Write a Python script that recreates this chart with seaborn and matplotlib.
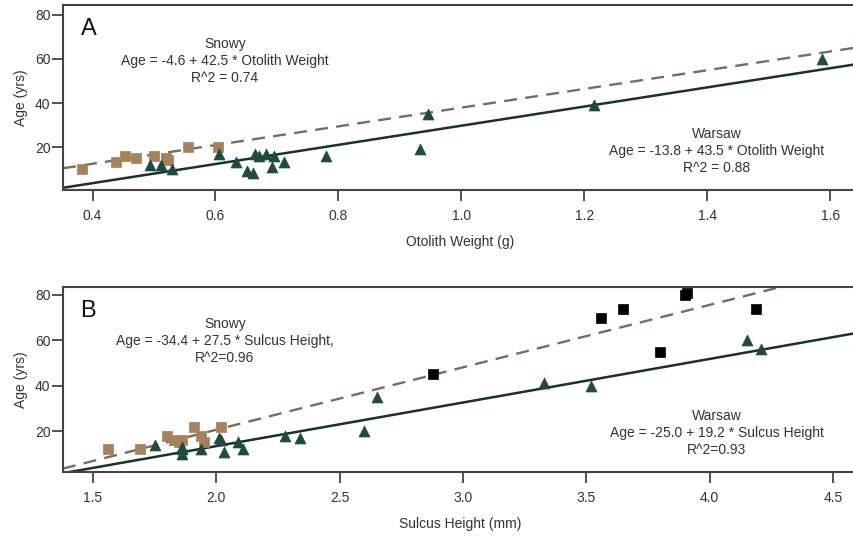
import numpy as np
import pandas as pd
import matplotlib
matplotlib.use("Agg")
import matplotlib.pyplot as plt
import seaborn as sns

# ---------------- data ----------------
# Panel A: otolith weight (g) vs age (yrs)
snowy_a_weight = [0.383, 0.438, 0.453, 0.471, 0.500, 0.519, 0.523, 0.556, 0.604]
snowy_a_age = [10, 13, 16, 15, 16, 15, 14, 20, 20]
warsaw_a_weight = [0.493, 0.512, 0.530, 0.606, 0.634, 0.652, 0.661, 0.664, 0.670,
                   0.682, 0.692, 0.695, 0.711, 0.779, 0.933, 0.946, 1.216, 1.586]
warsaw_a_age = [12, 12, 10, 17, 13, 9, 8, 17, 16, 17, 11, 16, 13, 16, 19, 35, 39, 60]

# Panel B: sulcus height (mm) vs age (yrs)
snowy_b_height = [1.56, 1.69, 1.80, 1.83, 1.86, 1.91, 1.94, 1.95, 2.02, 1.85]
snowy_b_age = [12, 12, 18, 16, 16, 22, 18, 15, 22, 15]
snowy_b_old_height = [2.88, 3.56, 3.65, 3.80, 3.90, 3.91, 4.19]
snowy_b_old_age = [45, 70, 74, 55, 80, 81, 74]
warsaw_b_height = [1.75, 1.86, 1.86, 1.86, 1.94, 2.01, 2.02, 2.03, 2.09, 2.11,
                   2.28, 2.34, 2.60, 2.65, 3.33, 3.52, 4.15, 4.21]
warsaw_b_age = [14, 12, 10, 13, 12, 17, 16, 11, 15, 12,
                18, 17, 20, 35, 41, 40, 60, 56]

# regression coefficients (intercept, slope)
snowy_a_fit = (-4.6, 42.5)
warsaw_a_fit = (-13.8, 43.5)
snowy_b_fit = (-34.4, 27.5)
warsaw_b_fit = (-25.0, 19.2)

xticks_a = [0.4, 0.6, 0.8, 1.0, 1.2, 1.4, 1.6]
xticks_b = [1.5, 2.0, 2.5, 3.0, 3.5, 4.0, 4.5]
yticks = [20, 40, 60, 80]

# ---------------- style ----------------
sns.set_theme(style="white")
plt.rcParams["font.family"] = ["Liberation Sans", "DejaVu Sans"]

TAN = "#a3825c"
GREEN = "#1f4a3e"
LINE_SOLID = "#17332b"
LINE_DASH = "#7d6b58"
TXT = "#333333"
W, H = 854, 540

fig = plt.figure(figsize=(8.54, 5.4), dpi=100)
axA = fig.add_axes([63 / W, 1 - 190 / H, (858 - 63) / W, (190 - 5) / H])
axB = fig.add_axes([63 / W, 1 - 472 / H, (858 - 63) / W, (472 - 287) / H])


def fit_frame(coef, xlim):
    xs = np.array(xlim)
    return pd.DataFrame({"x": xs, "y": coef[0] + coef[1] * xs})


def style_axes(ax, xlim, ylim, xticks, xlabel):
    ax.set_xlim(*xlim)
    ax.set_ylim(*ylim)
    ax.set_xticks(xticks)
    ax.set_xticklabels([f"{t:.1f}" for t in xticks])
    ax.set_yticks(yticks)
    ax.set_yticklabels([str(t) for t in yticks])
    ax.tick_params(axis="both", which="major", bottom=True, left=True,
                   direction="out", length=8, width=1.3,
                   color="#444444", labelsize=10, labelcolor=TXT)
    ax.tick_params(axis="y", pad=1)
    ax.tick_params(axis="x", pad=6)
    for s in ax.spines.values():
        s.set_color("#444444")
        s.set_linewidth(1.5)
    ax.set_xlabel(xlabel, fontsize=10, color=TXT, labelpad=8)
    ax.set_ylabel("Age (yrs)", fontsize=10, color=TXT, labelpad=5)


def ftext(x, y, s, **kw):
    fig.text(x / W, 1 - y / H, s, ha="center", va="center", fontsize=10,
             color=TXT, linespacing=1.25, **kw)


# ---------- Panel A ----------
xlimA = (0.352, 1.645)
ylimA = (0.5, 84.5)
sns.lineplot(data=fit_frame(snowy_a_fit, xlimA), x="x", y="y", ax=axA,
             color=LINE_DASH, lw=1.7, zorder=2).lines[-1].set_dashes([5.5, 3.5])
sns.lineplot(data=fit_frame(warsaw_a_fit, xlimA), x="x", y="y", ax=axA,
             color=LINE_SOLID, lw=1.8, zorder=2)
sns.scatterplot(x=snowy_a_weight, y=snowy_a_age, ax=axA, marker="s", s=50,
                color=TAN, edgecolor=TAN, linewidth=0.5, zorder=3)
sns.scatterplot(x=warsaw_a_weight, y=warsaw_a_age, ax=axA, marker="^", s=62,
                color=GREEN, edgecolor=GREEN, linewidth=0.5, zorder=4)
style_axes(axA, xlimA, ylimA, xticks_a, "Otolith Weight (g)")
axA.text(0.022, 0.93, "A", transform=axA.transAxes, fontsize=17, color="#111111",
         ha="left", va="top")
ftext(225, 61, "Snowy\nAge = -4.6 + 42.5 * Otolith Weight\nR^2 = 0.74")
ftext(717, 151, "Warsaw\nAge = -13.8 + 43.5 * Otolith Weight\nR^2 = 0.88")

# ---------- Panel B ----------
xlimB = (1.379, 4.602)
ylimB = (2.0, 83.5)
sns.lineplot(data=fit_frame(snowy_b_fit, xlimB), x="x", y="y", ax=axB,
             color=LINE_DASH, lw=1.7, zorder=2).lines[-1].set_dashes([5.5, 3.5])
sns.lineplot(data=fit_frame(warsaw_b_fit, xlimB), x="x", y="y", ax=axB,
             color=LINE_SOLID, lw=1.8, zorder=2)
sns.scatterplot(x=snowy_b_height, y=snowy_b_age, ax=axB, marker="s", s=50,
                color=TAN, edgecolor=TAN, linewidth=0.5, zorder=3)
sns.scatterplot(x=snowy_b_old_height, y=snowy_b_old_age, ax=axB, marker="s", s=50,
                color="black", edgecolor="black", linewidth=0.5, zorder=3)
sns.scatterplot(x=warsaw_b_height, y=warsaw_b_age, ax=axB, marker="^", s=62,
                color=GREEN, edgecolor=GREEN, linewidth=0.5, zorder=4)
style_axes(axB, xlimB, ylimB, xticks_b, "Sulcus Height (mm)")
axB.text(0.022, 0.93, "B", transform=axB.transAxes, fontsize=17, color="#111111",
         ha="left", va="top")
ftext(225, 341, "Snowy\nAge = -34.4 + 27.5 * Sulcus Height,\nR^2=0.96")
ftext(717, 433, "Warsaw\nAge = -25.0 + 19.2 * Sulcus Height\nR^2=0.93")

fig.savefig("out.png", dpi=100)
